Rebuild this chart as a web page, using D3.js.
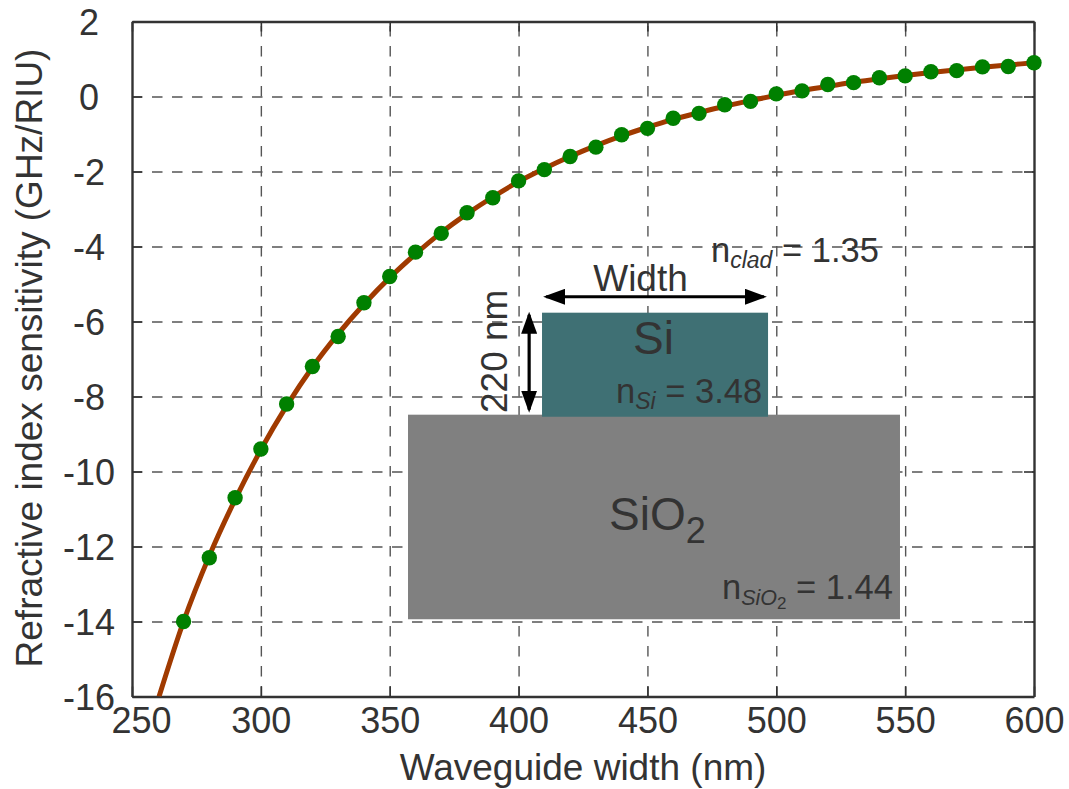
<!DOCTYPE html>
<html>
<head>
<meta charset="utf-8">
<script src="https://cdn.jsdelivr.net/npm/d3@7"></script>
<style>
  html, body { margin: 0; padding: 0; background: #fff; }
  svg { display: block; }
  text { font-family: "Liberation Sans", Arial, sans-serif; fill: #333; }
</style>
</head>
<body>
<script>
// measured points
var widths = [270, 280, 290, 300, 310, 320, 330, 340, 350, 360, 370, 380,
  390, 400, 410, 420, 430, 440, 450, 460, 470, 480, 490, 500, 510, 520, 530,
  540, 550, 560, 570, 580, 590, 600];
var sensitivity = [-14, -12.3, -10.7, -9.4, -8.2, -7.2, -6.4, -5.5, -4.8, -4.15,
  -3.65, -3.1, -2.7, -2.25, -1.95, -1.6, -1.35, -1.02, -0.85, -0.58, -0.45,
  -0.22, -0.13, 0.07, 0.15, 0.32, 0.37, 0.5, 0.55, 0.66, 0.69, 0.79, 0.8, 0.9];

// fitted curve
var fitWidths = [260.5, 270, 280, 290, 300, 310, 320, 330, 340, 350, 360, 370,
  380, 390, 400, 410, 420, 430, 440, 450, 460, 470, 480, 490, 500, 510, 520,
  530, 540, 550, 560, 570, 580, 590, 600];
var fitValues = [-16, -14, -12.25, -10.75, -9.42, -8.25, -7.22, -6.33, -5.54,
  -4.83, -4.2, -3.63, -3.13, -2.68, -2.27, -1.92, -1.6, -1.31, -1.05, -0.82,
  -0.61, -0.43, -0.26, -0.11, 0.03, 0.16, 0.27, 0.38, 0.47, 0.56, 0.64, 0.71,
  0.78, 0.84, 0.9];

var xTicks = [250, 300, 350, 400, 450, 500, 550, 600];
var yTicks = [2, 0, -2, -4, -6, -8, -10, -12, -14, -16];

var LEFT = 132, RIGHT = 1034, TOP = 21.5, BOTTOM = 696.5;
var FONT = 37, TICK_FONT = 36;

var x = d3.scaleLinear().domain([250, 600]).range([LEFT, RIGHT]);
var y = d3.scaleLinear().domain([-16, 2]).range([BOTTOM, TOP]);

var svg = d3.select('body').append('svg')
  .attr('width', 1069)
  .attr('height', 789);

var defs = svg.append('defs');
defs.append('clipPath')
  .attr('id', 'plot-area')
  .append('rect')
    .attr('x', LEFT)
    .attr('y', TOP)
    .attr('width', RIGHT - LEFT)
    .attr('height', BOTTOM - TOP);

defs.append('marker')
  .attr('id', 'head')
  .attr('viewBox', '0 0 22 16')
  .attr('markerUnits', 'userSpaceOnUse')
  .attr('markerWidth', 22)
  .attr('markerHeight', 16)
  .attr('refX', 19)
  .attr('refY', 8)
  .attr('orient', 'auto-start-reverse')
  .append('path')
    .attr('d', 'M0,0L22,8L0,16Z')
    .style('fill', '#000');

// grid, drawn with the axes' own tick lines
function grid(axis, tx, ty) {
  var g = svg.append('g').attr('transform', 'translate(' + tx + ',' + ty + ')').call(axis);
  g.select('.domain').remove();
  g.selectAll('text').remove();
  g.selectAll('line')
    .style('stroke', '#555')
    .style('stroke-width', 1.4)
    .style('stroke-dasharray', '10.5,9.5');
}
grid(d3.axisBottom(x).tickValues(xTicks.slice(1, -1)).tickSize(TOP - BOTTOM), 0, BOTTOM);
grid(d3.axisLeft(y).tickValues(yTicks.slice(1, -1)).tickSize(LEFT - RIGHT), LEFT, 0);

// frame and short inward ticks on all four sides
function frameAxis(axis, tx, ty) {
  var g = svg.append('g').attr('transform', 'translate(' + tx + ',' + ty + ')').call(axis);
  g.select('.domain').style('stroke', '#333').style('stroke-width', 2.4);
  g.selectAll('line').style('stroke', '#333').style('stroke-width', 1.6);
  return g;
}
var bottomAxis = frameAxis(d3.axisBottom(x).tickValues(xTicks).tickSizeInner(-10).tickSizeOuter(0).tickPadding(0), 0, BOTTOM);
bottomAxis.selectAll('text')
  .attr('x', function (d) { return d === 250 ? 9 : 0; })  // first label is nudged clear of -16
  .attr('y', 36.5)
  .attr('dy', 0)
  .style('font-size', TICK_FONT + 'px');
var leftAxis = frameAxis(d3.axisLeft(y).tickValues(yTicks).tickSizeInner(-10).tickSizeOuter(0).tickPadding(0).tickFormat(String), LEFT, 0);
leftAxis.selectAll('text')
  .attr('x', -43)
  .attr('dy', '0.35em')
  .style('text-anchor', 'middle')
  .style('font-size', TICK_FONT + 'px');
frameAxis(d3.axisTop(x).tickValues(xTicks).tickSizeInner(-10).tickSizeOuter(0).tickFormat(''), 0, TOP);
frameAxis(d3.axisRight(y).tickValues(yTicks).tickSizeInner(-10).tickSizeOuter(0).tickFormat(''), RIGHT, 0);

svg.append('text')
  .attr('x', 583)
  .attr('y', 780)
  .attr('text-anchor', 'middle')
  .style('font-size', FONT + 'px')
  .text('Waveguide width (nm)');

svg.append('text')
  .attr('transform', 'translate(42,358) rotate(-90)')
  .attr('text-anchor', 'middle')
  .style('font-size', FONT + 'px')
  .text('Refractive index sensitivity (GHz/RIU)');

// series
var line = d3.line()
  .x(function (d) { return x(d[0]); })
  .y(function (d) { return y(d[1]); })
  .curve(d3.curveMonotoneX);

svg.append('path')
  .datum(d3.zip(fitWidths, fitValues))
  .attr('clip-path', 'url(#plot-area)')
  .attr('d', line)
  .style('fill', 'none')
  .style('stroke', '#a03a00')
  .style('stroke-width', 5);

svg.selectAll('circle.point')
  .data(d3.zip(widths, sensitivity))
  .enter().append('circle')
    .attr('class', 'point')
    .attr('cx', function (d) { return x(d[0]); })
    .attr('cy', function (d) { return y(d[1]); })
    .attr('r', 7.7)
    .style('fill', '#008000');

// waveguide cross-section inset, placed in data units
function block(x0, x1, y0, y1, color) {
  svg.append('rect')
    .attr('x', x(x0))
    .attr('y', y(y1))
    .attr('width', x(x1) - x(x0))
    .attr('height', y(y0) - y(y1))
    .style('fill', color);
}
block(357.1, 548, -13.94, -8.485, '#808080');
block(409.1, 496.8, -8.54, -5.765, '#3f7074');

function arrow(x1, y1, x2, y2) {
  svg.append('line')
    .attr('x1', x(x1)).attr('y1', y(y1))
    .attr('x2', x(x2)).attr('y2', y(y2))
    .attr('marker-start', 'url(#head)')
    .attr('marker-end', 'url(#head)')
    .style('stroke', '#000')
    .style('stroke-width', 3.2);
}
arrow(410.7, -5.34, 495.2, -5.34);
arrow(404.1, -5.82, 404.1, -8.35);

function label(px, py, size, parts, anchor) {
  var t = svg.append('text')
    .attr('x', px)
    .attr('y', py)
    .attr('text-anchor', anchor || 'start')
    .style('font-size', size + 'px');
  parts.forEach(function (p) {
    var ts = t.append('tspan').text(p.s);
    if (p.dy) ts.attr('dy', p.dy);
    if (p.size) ts.style('font-size', p.size + 'px');
    if (p.italic) ts.style('font-style', 'italic');
  });
  return t;
}
label(640.5, 291, FONT, [{s: 'Width'}], 'middle');
label(711, 262, 34.5, [
  {s: 'n'},
  {s: 'clad', dy: 6, size: 23, italic: true},
  {s: ' = 1.35', dy: -6}
]);
label(653.5, 354, 46, [{s: 'Si'}], 'middle');
label(616, 403, 34.5, [
  {s: 'n'},
  {s: 'Si', dy: 6, size: 23, italic: true},
  {s: ' = 3.48', dy: -6}
]);
label(609, 530, 46, [
  {s: 'SiO'},
  {s: '2', dy: 13, size: 36}
]);
label(722, 598.5, 34.5, [
  {s: 'n'},
  {s: 'SiO', dy: 6.5, size: 21.5, italic: true},
  {s: '2', dy: 4, size: 17},
  {s: ' = 1.44', dy: -10.5}
]);
svg.append('text')
  .attr('transform', 'translate(507,413) rotate(-90)')
  .style('font-size', '37px')
  .text('220 nm');
</script>
</body>
</html>
